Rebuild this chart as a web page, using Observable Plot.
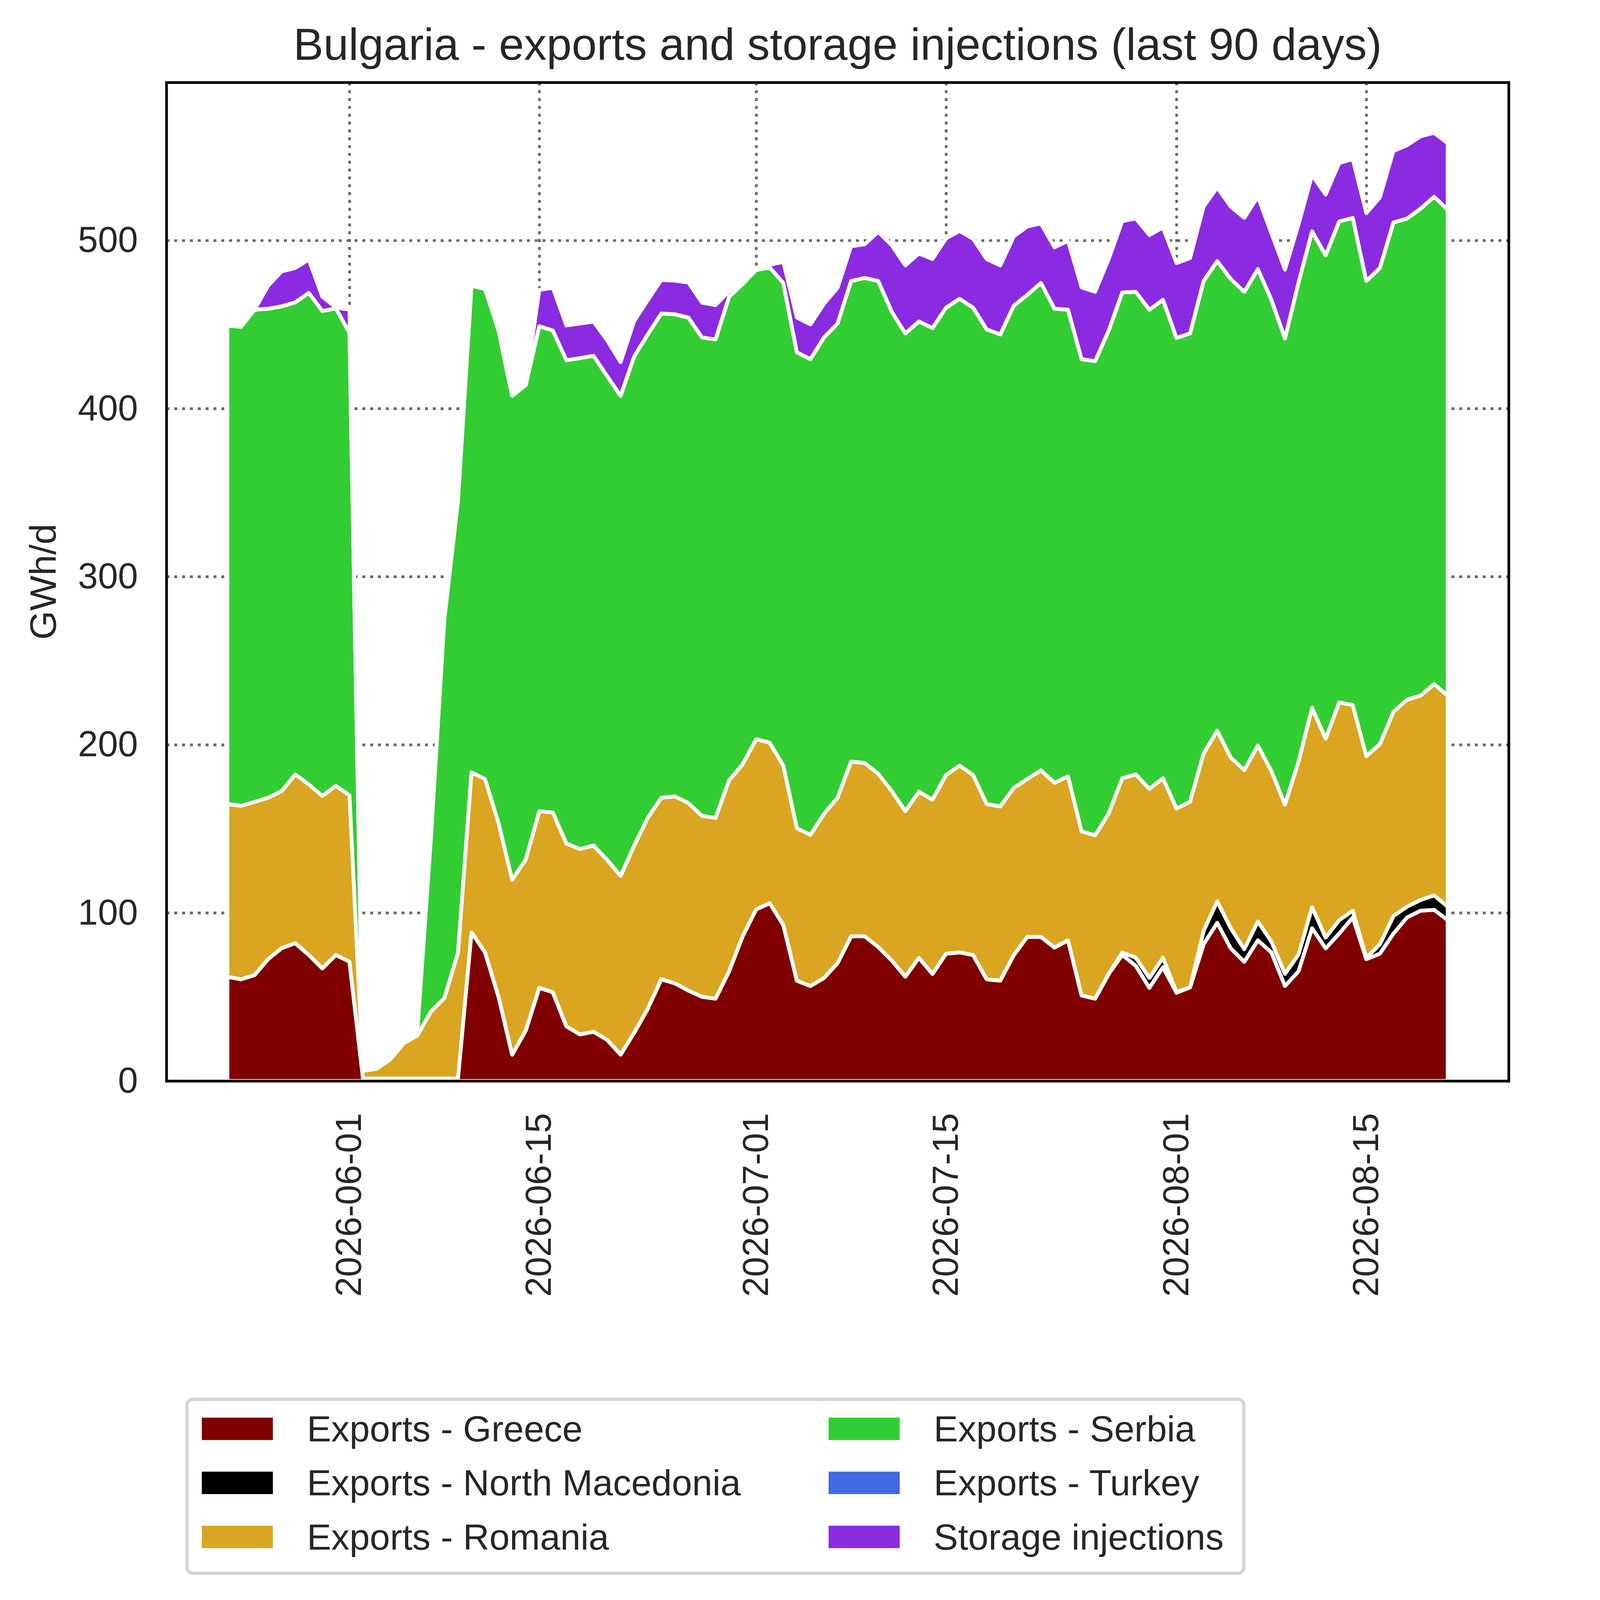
<!DOCTYPE html>
<html>
<head>
<meta charset="utf-8">
<script src="https://cdn.jsdelivr.net/npm/d3@7"></script>
<script src="https://cdn.jsdelivr.net/npm/@observablehq/plot@0.6"></script>
<style>
html, body { margin: 0; padding: 0; background: #fff; overflow: hidden; }
#viewport { position: fixed; left: 0; top: 0; width: 100vw; height: 100vh; overflow: hidden; background: #fff; }
#page { position: absolute; left: 0; top: 0; width: 5675px; height: 5922px; overflow: hidden; background: #fff;
  transform-origin: 0 0;
  font-family: "Liberation Sans", Arial, sans-serif; color: #262626; }
#chart { position: absolute; left: 0; top: 0; max-width: none !important; }
.title { position: absolute; left: 3100px; top: 80px; transform: translateX(-50%);
  font-size: 167px; line-height: 167px; white-space: nowrap; }
.ylabel { position: absolute; left: 159px; top: 2153px; transform: translate(-50%, -50%) rotate(-90deg);
  font-size: 138px; line-height: 138px; white-space: nowrap; }
.legend-frame { position: absolute; left: 686px; top: 5173px; width: 3924px; height: 656px;
  box-sizing: border-box; border: 12px solid #d4d4d4; border-radius: 28px; background: #fff; }
.legend-item { position: absolute; height: 135px; display: flex; align-items: center;
  white-space: nowrap; font-size: 135px; line-height: 135px; }
.swatch { width: 263px; height: 83px; margin-right: 126px; flex: none; }
</style>
</head>
<body>
<div id="viewport"><div id="page"></div></div>
<script>
// ---------- data ----------
const startDate = "2026-05-23"; // first day of the 90-day window (91 daily points)

const greece = [62, 60.5, 63, 72.5, 79, 82, 75, 67, 75, 71,
  1.5, 1.5, 1.5, 1.5, 1.5, 1.5, 1.5, 1.5,
  88.5, 76.5, 50, 15.7, 30, 55.4, 52.8, 32.5, 27.7, 29.3, 24.5, 15.7,
  28.7, 43, 60.5, 58.1, 53.8, 50.1, 49, 65.3, 86.1, 102.1,
  105.8, 92.8, 59.7, 56.5, 61.3, 70.1, 86.1, 86.1, 79.7, 71.7,
  62.1, 73.3, 63.7, 75.7, 76.5, 74.9, 60.5, 59.7, 74.9, 85.8,
  85.7, 79.4, 83.7, 50.9, 49, 63.7, 75, 68.5, 55.4, 67.7,
  52.5, 55.7, 81.3, 94.1, 78.9, 70.9, 83.7, 76.5, 56.5, 65.3,
  90.9, 78.9, 87.7, 97.3, 72.5, 75.7, 87.7, 97.3, 101.3, 101.8, 95.7];

const northMacedonia = [0, 0, 0, 0, 0, 0, 0, 0, 0, 0,
  0, 0, 0, 0, 0, 0, 0, 0,
  0, 0, 0, 0, 0, 0, 0, 0, 0, 0, 0, 0,
  0, 0, 0, 0, 0, 0, 0, 0, 0, 0,
  0, 0, 0, 0, 0, 0, 0, 0, 0, 0,
  0, 0, 0, 0, 0, 0, 0, 0, 0, 0,
  0, 0, 0, 0, 0, 0, 1.5, 4.8, 5.9, 5.6,
  0.4, 0, 8, 12.8, 12, 7.5, 11.2, 6.4, 7.2, 10,
  12.5, 6.4, 8, 4, 0.8, 5.6, 10.4, 6.4, 6.4, 8.6, 8];

const romania = [102.8, 103.2, 103, 96, 93.4, 100.4, 101.4, 102.6, 100.6, 99,
  4.5, 5.8, 11.3, 20.9, 25.5, 39.7, 47.8, 74.7,
  95.1, 103.1, 103.3, 104, 101.7, 105.1, 106.9, 108.8, 110.3, 110.7, 107.2, 106.3,
  111.3, 113.5, 108, 111.2, 111.5, 107.6, 107.5, 113.5, 102.3, 101.2,
  95.4, 94.8, 90.7, 89.9, 97.6, 98.4, 103.9, 103.1, 103.1, 100.7,
  98.4, 98.8, 103.6, 106.3, 111.1, 107.1, 104.3, 103.6, 99.5, 93.8,
  99.1, 98, 97.5, 97.6, 97.1, 95.5, 103.6, 109.1, 112.4, 106.8,
  109.2, 110.4, 105.5, 101.5, 101.5, 106.5, 104.7, 101.5, 100.7, 114.7,
  118.6, 118.3, 129.5, 122.3, 119.9, 119.1, 121.5, 123.1, 121.5, 125.7, 125.5];

const serbia = [284.6, 284.9, 292.8, 290.9, 288.4, 280.8, 292.4, 288.4, 284, 275,
  0, 0, 0, 0, 2, 102.8, 225.7, 268.8,
  289.4, 291.6, 293.1, 287.9, 282.3, 288.5, 286.7, 287.5, 292, 291.4, 287.7, 285.6,
  291, 287.6, 288, 286.8, 288.8, 284.6, 284.6, 287.7, 285.7, 279.1,
  282.7, 287.1, 283.1, 283, 283.4, 282.1, 285.9, 288.5, 293.1, 285.2,
  284.2, 279.7, 280.6, 278, 277.7, 278, 282.3, 280.8, 286.8, 288.1,
  289.9, 282, 277.6, 280.9, 282.1, 287.2, 289, 287, 285.1, 284.6,
  279.9, 278.6, 281.1, 279.3, 284.7, 284.5, 283.4, 280.3, 277.3, 285,
  283.4, 287.6, 286.1, 289.8, 282.7, 283.2, 291.1, 286.2, 289.7, 289.9, 289.1];

const turkey = [0, 0, 0, 0, 0, 0, 0, 0, 0, 0,
  0, 0, 0, 0, 0, 0, 0, 0,
  0, 0, 0, 0, 0, 0, 0, 0, 0, 0, 0, 0,
  0, 0, 0, 0, 0, 0, 0, 0, 0, 0,
  0, 0, 0, 0, 0, 0, 0, 0, 0, 0,
  0, 0, 0, 0, 0, 0, 0, 0, 0, 0,
  0, 0, 0, 0, 0, 0, 0, 0, 0, 0,
  0, 0, 0, 0, 0, 0, 0, 0, 0, 0,
  0, 0, 0, 0, 0, 0, 0, 0, 0, 0, 0];

const storage = [0, 0, 0, 13.6, 20.8, 20.4, 19.8, 8.5, 0.5, 13.8,
  0, 0, 0, 0, 0, 0, 0, 0,
  0, 0, 0, 0, 0, 21.6, 25.4, 20.6, 20.6, 20.3, 21.2, 20,
  21, 20.3, 20, 20, 20.9, 20.7, 20.4, 3.3, 0, 0,
  1.6, 12.6, 20.6, 20.6, 20, 21.2, 20.6, 20, 29.2, 39.5,
  40.4, 40.4, 41, 41.2, 40.3, 40.9, 41.8, 41, 41.2, 40.6,
  35.4, 36.5, 40.9, 42.7, 41.2, 42.5, 42.4, 43.6, 44.4, 43,
  44.5, 44.8, 44.2, 43.8, 43, 44, 43, 39.5, 40.9, 34.5,
  33.5, 36, 34.7, 35, 40.3, 42, 42.4, 43.6, 43, 38, 39.5];

const seriesNames = ["Exports - Greece", "Exports - North Macedonia", "Exports - Romania",
  "Exports - Serbia", "Exports - Turkey", "Storage injections"];
const seriesColors = ["#800000", "#000000", "#DAA520", "#32CD32", "#4169E1", "#8A2BE2"];
const yTickValues = [0, 100, 200, 300, 400, 500];
const xTickLabels = ["2026-06-01", "2026-06-15", "2026-07-01", "2026-07-15", "2026-08-01", "2026-08-15"];
const titleText = "Bulgaria - exports and storage injections (last 90 days)";
const yLabelText = "GWh/d";

// ---------- build ----------
const seriesValues = [greece, northMacedonia, romania, serbia, turkey, storage];
const start = new Date(startDate + "T00:00:00Z");
const dates = greece.map((_, i) => d3.utcDay.offset(start, i));
const rows = seriesNames.flatMap((name, k) =>
  seriesValues[k].map((v, i) => ({date: dates[i], series: name, value: v})));
const xTicks = xTickLabels.map(s => new Date(s + "T00:00:00Z"));
// matplotlib-like 5% x margins around the data range
const spanMs = dates[dates.length - 1] - dates[0];
const xDomain = [new Date(+dates[0] - spanMs * 0.05), new Date(+dates[dates.length - 1] + spanMs * 0.05)];

const chart = Plot.plot({
  width: 5675,
  height: 5922,
  marginTop: 305,
  marginBottom: 1921,
  marginLeft: 616,
  marginRight: 91,
  style: {fontFamily: '"Liberation Sans", Arial, sans-serif', fontSize: "133px", color: "#262626", background: "white", overflow: "visible"},
  x: {type: "utc", domain: xDomain},
  y: {domain: [0, 594]},
  color: {domain: seriesNames, range: seriesColors},
  marks: [
    Plot.gridY(yTickValues, {stroke: "#696969", strokeOpacity: 1, strokeWidth: 10, strokeDasharray: "11,18"}),
    Plot.gridX(xTicks, {stroke: "#696969", strokeOpacity: 1, strokeWidth: 10, strokeDasharray: "11,18"}),
    Plot.areaY(rows, Plot.stackY({
      x: "date", y: "value", z: "series", fill: "series", order: seriesNames,
      stroke: "white", strokeWidth: 14, strokeLinejoin: "round"
    })),
    Plot.axisY(yTickValues, {tickSize: 0, tickPadding: 106, label: null}),
    Plot.axisX(xTicks, {tickSize: 0, tickPadding: 118, tickRotate: -90, tickFormat: d3.utcFormat("%Y-%m-%d"), label: null}),
    Plot.frame({stroke: "black", strokeWidth: 10})
  ]
});
chart.id = "chart";
chart.style.width = "5675px";
chart.style.height = "5922px";

const page = document.getElementById("page");
page.appendChild(chart);

const title = document.createElement("div");
title.className = "title";
title.textContent = titleText;
page.appendChild(title);

const ylab = document.createElement("div");
ylab.className = "ylabel";
ylab.textContent = yLabelText;
page.appendChild(ylab);

const frame = document.createElement("div");
frame.className = "legend-frame";
page.appendChild(frame);

const colX = [747, 3067];
const rowY = [5288, 5488, 5688];
seriesNames.forEach((name, k) => {
  const col = Math.floor(k / 3), row = k % 3;
  const item = document.createElement("div");
  item.className = "legend-item";
  item.style.left = colX[col] + "px";
  item.style.top = (rowY[row] - 67.5) + "px";
  const sw = document.createElement("div");
  sw.className = "swatch";
  sw.style.background = seriesColors[k];
  const tx = document.createElement("span");
  tx.textContent = name;
  item.appendChild(sw);
  item.appendChild(tx);
  page.appendChild(item);
});

// fit the 5675x5922 layout into whatever CSS viewport the window provides
function fit() {
  const vw = window.innerWidth || document.documentElement.clientWidth || 5675;
  const vh = window.innerHeight || document.documentElement.clientHeight || 5922;
  const s = Math.min(vw / 5675, vh / 5922);
  page.style.transform = "scale(" + s + ")";
}
fit();
window.addEventListener("resize", fit);
</script>
</body>
</html>
